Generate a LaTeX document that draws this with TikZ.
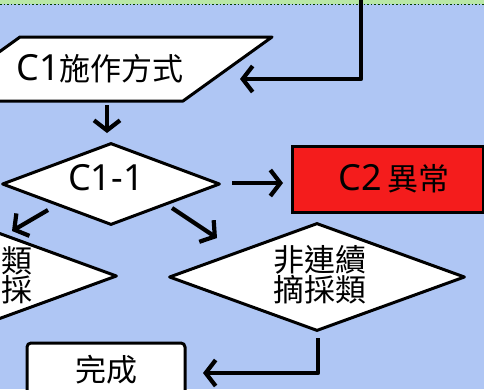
\documentclass[tikz,border=0pt]{standalone}
\usepackage{fontspec}
\setmainfont{Noto Sans CJK TC}
\newfontfamily\latinfont{Noto Sans}
\newcommand\lat[1]{{\latinfont\fontsize{36}{36}\selectfont #1}}
\usetikzlibrary{arrows.meta,shapes.geometric}
\definecolor{bg}{HTML}{AFC6F4}
\definecolor{strip}{HTML}{B9E8A6}
\definecolor{alarm}{HTML}{F41C1C}
\tikzset{
  flow/.style={line width=4.2pt, line join=round, -{Straight Barb[length=10pt,width=26pt]}},
  box/.style={draw=black, line width=3pt, fill=white, line join=round},
  lbl/.style={font=\fontsize{31}{29}\selectfont, align=center, inner sep=0pt},
  dia/.style={box, diamond, inner sep=0pt}
}
\begin{document}
\begin{tikzpicture}[x=1pt,y=-1pt]
\useasboundingbox (0,0) rectangle (484,389);
\fill[bg] (0,0) rectangle (484,389);
\fill[strip] (0,0) rectangle (484,4);
\draw[line width=1.6pt, dotted, black!75!green] (0,4.5) -- (484,4.5);

% parallelogram
\draw[box] (20,37) -- (272,37) -- (183,101) -- (-69,101) -- cycle;
\node[lbl] (par) at (100,69) {\lat{C1}施作方式};

% decision C1-1
\node[dia, minimum width=218pt, minimum height=82pt] (d1) at (111,184) {};
\node[lbl] (t1) at (106,178) {\lat{C1-1}};

% red box
\node[draw=black, line width=3pt, fill=alarm, minimum width=191pt, minimum height=66pt] (c2) at (387.5,179) {};
\node[lbl] (t2) at (394,179) {\lat{C2}\,異常};

% left decision (cut off)
\node[dia, minimum width=234pt, minimum height=86pt] (d2) at (0,276) {};
\node[lbl, anchor=east] (t3) at (33,275) {類\\採};

% right decision
\node[dia, minimum width=296pt, minimum height=108pt] (d3) at (317,277) {};
\node[lbl] (t4) at (320,275) {非連續\\摘採類};

% done box
\draw[box, rounded corners=4pt] (27,343) rectangle (185,410);
\node[lbl] (done) at (106,370) {完成};

% connectors
\coordinate (top) at (361,-3);
\coordinate (b1) at (361,79);
\coordinate (e1) at (240,79);
\draw[flow] (top) -- (b1) -- (e1);

\coordinate (p1) at (107,105);
\coordinate (p2) at (107,133);
\draw[flow] (p1) -- (p2);

\coordinate (r1) at (232,183);
\coordinate (r2) at (283,183);
\draw[flow] (r1) -- (r2);

\coordinate (l1) at (48,210);
\coordinate (l2) at (12,231);
\draw[flow] (l1) -- (l2);

\coordinate (m1) at (172,208);
\coordinate (m2) at (217,238);
\draw[flow] (m1) -- (m2);

\coordinate (n1) at (318,338);
\coordinate (n2) at (318,373);
\coordinate (n3) at (203,373);
\draw[flow] (n1) -- (n2) -- (n3);
\end{tikzpicture}
\end{document}
